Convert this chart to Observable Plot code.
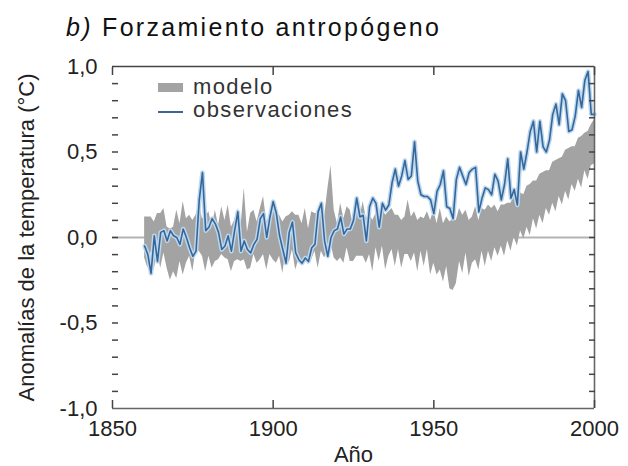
<!DOCTYPE html>
<html><head><meta charset="utf-8">
<script src="https://cdn.jsdelivr.net/npm/d3@7"></script>
<script src="https://cdn.jsdelivr.net/npm/@observablehq/plot@0.6"></script>
<style>
body{margin:0;background:#fff;font-family:"Liberation Sans",Arial,sans-serif;}
#wrap{position:relative;width:628px;height:466px;overflow:hidden;}
#title{box-sizing:border-box;height:44px;padding:13px 0 0 66px;font-size:25px;letter-spacing:2.3px;color:#111;white-space:nowrap;}
#legend{position:absolute;left:0;top:0;}
.lg{position:absolute;font-size:22px;line-height:22px;letter-spacing:1.4px;color:#333;white-space:nowrap;}
</style></head><body>
<div id="wrap">
<div id="title"><span style="font-style:italic">b)</span> Forzamiento antropógeno</div>
<div id="chart"></div>
<div id="legend">
  <div style="position:absolute;left:158px;top:83px;width:25px;height:9px;background:#a3a3a3"></div>
  <div class="lg" style="left:193px;top:76px">modelo</div>
  <div style="position:absolute;left:158px;top:111px;width:25px;height:2px;background:#35679a"></div>
  <div class="lg" style="left:193px;top:99px">observaciones</div>
</div>
</div>
<script>
const firstYear = 1860, lastYear = 2000;
const years = d3.range(firstYear, lastYear + 1);

// Observaciones (anomalía anual, °C)
const obs = [
 -0.05,-0.10,-0.21,0.01,-0.14,0.03,0.04,-0.02,0.04,0.01,
 0.00,-0.04,0.05,0.00,-0.06,-0.11,-0.08,0.22,0.38,0.04,
 0.06,0.11,0.08,0.03,-0.07,-0.05,0.01,-0.08,0.04,0.15,
 -0.08,-0.02,-0.07,-0.09,-0.04,-0.01,0.11,0.14,0.00,0.12,
 0.21,0.14,0.01,-0.07,-0.15,0.03,0.09,-0.09,-0.13,-0.15,
 -0.12,-0.14,-0.06,-0.04,0.15,0.20,-0.02,-0.11,0.00,0.04,
 0.05,0.12,0.02,0.05,0.05,0.10,0.23,0.12,0.13,-0.02,
 0.18,0.23,0.20,0.06,0.20,0.16,0.19,0.32,0.40,0.30,
 0.36,0.45,0.34,0.36,0.56,0.33,0.25,0.24,0.24,0.22,
 0.14,0.27,0.31,0.39,0.18,0.17,0.11,0.34,0.41,0.36,
 0.31,0.38,0.40,0.41,0.15,0.23,0.29,0.28,0.25,0.37,
 0.33,0.22,0.31,0.46,0.23,0.28,0.19,0.50,0.40,0.50,
 0.62,0.68,0.50,0.68,0.53,0.50,0.57,0.72,0.78,0.66,
 0.84,0.80,0.62,0.63,0.71,0.86,0.76,0.92,0.97,0.72,
 0.72
];

// Modelo: límite inferior y superior de la banda
const modelLow = [
 -0.12,-0.18,-0.08,-0.19,-0.08,-0.18,-0.09,-0.18,-0.25,-0.20,
 -0.24,-0.14,-0.22,-0.15,-0.11,-0.20,-0.07,-0.08,-0.11,-0.20,
 -0.11,-0.18,-0.14,-0.13,-0.10,-0.12,-0.13,-0.20,-0.14,-0.13,
 -0.14,-0.13,-0.19,-0.18,-0.10,-0.15,-0.13,-0.10,-0.19,-0.10,
 -0.13,-0.15,-0.11,-0.21,-0.08,-0.15,-0.07,-0.19,-0.13,-0.16,
 -0.13,-0.15,-0.13,-0.08,-0.18,-0.08,-0.12,-0.07,-0.04,-0.12,
 -0.14,-0.12,-0.15,-0.06,-0.14,-0.14,-0.11,-0.11,-0.11,-0.15,
 -0.10,-0.20,-0.06,-0.14,-0.05,-0.19,-0.11,-0.07,-0.17,-0.07,
 -0.18,-0.10,-0.10,-0.14,-0.09,-0.20,-0.08,-0.17,-0.07,-0.22,
 -0.15,-0.22,-0.19,-0.26,-0.17,-0.30,-0.31,-0.27,-0.14,-0.21,
 -0.09,-0.23,-0.15,-0.13,-0.19,-0.08,-0.17,-0.08,-0.14,-0.06,
 -0.11,-0.05,-0.11,-0.02,-0.08,0.00,-0.05,0.04,-0.01,0.06,
 0.01,0.11,0.05,0.13,0.08,0.17,0.13,0.20,0.15,0.24,
 0.19,0.27,0.22,0.31,0.27,0.34,0.29,0.39,0.34,0.42,
 0.43
];
const modelHigh = [
 0.12,0.12,0.12,0.09,0.14,0.14,0.17,0.06,0.05,0.06,
 0.16,0.08,0.21,0.11,0.13,0.10,0.13,0.20,0.11,0.12,
 0.15,0.06,0.16,0.07,0.18,0.10,0.19,0.06,0.10,0.17,
 0.06,0.29,0.03,0.14,0.16,0.09,0.17,0.24,0.09,0.12,
 0.19,0.11,0.13,0.09,0.12,0.13,0.15,0.13,0.13,0.08,
 0.17,0.05,0.15,0.14,0.14,0.18,0.12,0.28,0.42,0.16,
 0.08,0.20,0.11,0.18,0.16,0.06,0.17,0.11,0.21,0.11,
 0.14,0.10,0.14,0.14,0.17,0.13,0.15,0.17,0.13,0.13,
 0.10,0.12,0.22,0.12,0.15,0.10,0.12,0.11,0.15,0.10,
 0.16,0.08,0.17,0.08,0.12,0.09,0.11,0.10,0.17,0.13,
 0.16,0.10,0.12,0.18,0.10,0.17,0.16,0.19,0.17,0.19,
 0.15,0.19,0.19,0.20,0.20,0.24,0.25,0.26,0.25,0.30,
 0.31,0.33,0.33,0.37,0.38,0.39,0.39,0.44,0.45,0.46,
 0.47,0.51,0.52,0.53,0.53,0.58,0.59,0.61,0.62,0.66,
 0.69
];

const xDomain = [1850, 2000];
const yDomain = [-1, 1];
const xTicks = [1850, 1900, 1950, 2000];
const yLabelTicks = [-1, -0.5, 0, 0.5, 1];
const yMinorTicks = [-0.9,-0.8,-0.7,-0.6,-0.5,-0.4,-0.3,-0.2,-0.1,0,0.1,0.2,0.3,0.4,0.5,0.6,0.7,0.8,0.9];

const table = years.map((year, i) => ({year, obs: obs[i], lo: modelLow[i], hi: modelHigh[i]}));
const fmt = d => d3.format(".1f")(d).replace(".", ",").replace("\u2212", "-");
const blank = () => "";
const axisColor = "#444";

const chart = Plot.plot({
  width: 628,
  height: 422,
  marginLeft: 112,
  marginRight: 34,
  marginTop: 22,
  marginBottom: 58,
  x: {domain: xDomain},
  y: {domain: yDomain},
  style: {fontFamily: '"Liberation Sans", Arial, sans-serif', fontSize: "22px", color: "#222", background: "transparent"},
  marks: [
    Plot.ruleY([0], {stroke: "#b4b4b4", strokeWidth: 2}),
    Plot.areaY(table, {x: "year", y1: "lo", y2: "hi", fill: "#a3a3a3"}),
    Plot.lineY(table, {x: "year", y: "obs", stroke: "#bcd7ee", strokeWidth: 4.5}),
    Plot.lineY(table, {x: "year", y: "obs", stroke: "#35679a", strokeWidth: 1.6}),
    Plot.ruleY([yDomain[1]], {stroke: axisColor, strokeWidth: 1.6}),
    Plot.ruleY([yDomain[0]], {stroke: "#666", strokeWidth: 1.6}),
    Plot.ruleX([xDomain[1]], {stroke: "#666", strokeWidth: 1.6}),
    Plot.axisY(yMinorTicks, {anchor: "left", tickSize: -6, tickFormat: blank, label: null, stroke: axisColor, strokeWidth: 1.5}),
    Plot.axisY(yMinorTicks, {anchor: "right", tickSize: -6, tickFormat: blank, label: null, stroke: axisColor, strokeWidth: 1.5}),
    Plot.axisY(yLabelTicks, {anchor: "left", tickSize: 0, tickPadding: 15, tickFormat: fmt,
      label: "Anomalías de la temperatura (°C)", labelAnchor: "center", labelOffset: 94, labelArrow: "none"}),
    Plot.axisX(xTicks, {anchor: "bottom", tickSize: -8, tickFormat: blank, label: null, stroke: axisColor, strokeWidth: 1.5}),
    Plot.axisX(xTicks, {anchor: "top", tickSize: -8, tickFormat: blank, label: null, stroke: axisColor, strokeWidth: 1.5}),
    Plot.axisX(xTicks, {anchor: "bottom", tickSize: 0, tickPadding: 12, tickFormat: d => String(d),
      label: "Año", labelAnchor: "center", labelOffset: 53, labelArrow: "none"})
  ]
});
document.getElementById("chart").appendChild(chart);
</script>
</body></html>
